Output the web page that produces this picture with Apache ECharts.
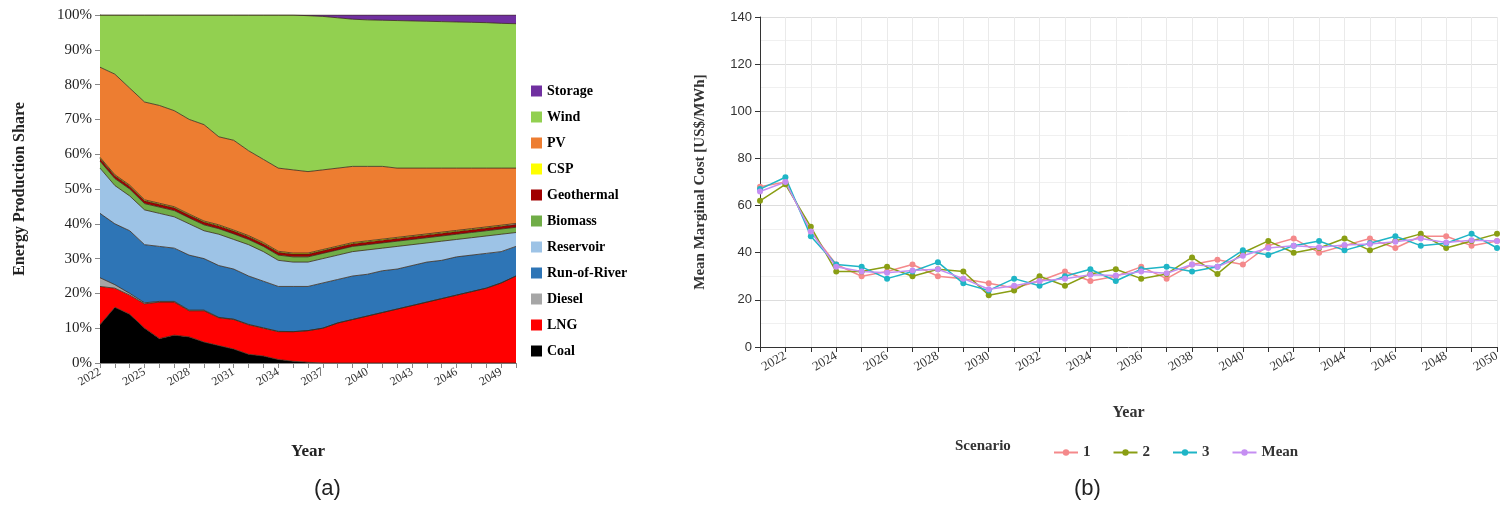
<!DOCTYPE html>
<html lang="en">
<head>
    <meta charset="UTF-8">
    <script src="https://cdn.jsdelivr.net/npm/echarts@6/dist/echarts.min.js"></script>
    <title>Energy mix and marginal cost</title>
    <style>
        html, body { margin: 0; padding: 0; background: #fff; }
        #myChart { width: 1512px; height: 509px; }
    </style>
</head>
<body>
    <div id="myChart"></div>
    <script>
        // (a) energy production share, 2022-2050
        var years = [];
        for (let y = 2022; y <= 2050; y++) years.push(String(y));

        var coal = [11, 16, 14, 10, 7, 8, 7.5, 6, 5, 4, 2.5, 2, 1, 0.5, 0.2, 0, 0, 0, 0, 0, 0, 0, 0, 0, 0, 0, 0, 0, 0];
        var lng = [11, 5.5, 5.5, 7, 10.5, 9.5, 7.5, 9, 8, 8.5, 8.5, 8, 8, 8.5, 9.1, 10, 11.5, 12.5, 13.5, 14.5, 15.5, 16.5, 17.5, 18.5, 19.5, 20.5, 21.5, 23, 25];
        var diesel = [2.5, 1, 0.5, 0.3, 0.2, 0.2, 0.2, 0.2, 0.1, 0.1, 0.1, 0.1, 0.1, 0, 0, 0, 0, 0, 0, 0, 0, 0, 0, 0, 0, 0, 0, 0, 0];
        var runOfRiver = [18.5, 17.5, 18, 16.7, 15.8, 15.3, 15.8, 14.8, 14.9, 14.4, 13.9, 13.4, 12.9, 13, 12.7, 13, 12.5, 12.5, 12, 12, 11.5, 11.5, 11.5, 11, 11, 10.5, 10, 9, 8.5];
        var reservoir = [13, 11, 10, 10, 9.5, 9, 9, 8, 9, 8.5, 9, 8.5, 7.5, 7, 7, 7, 7, 7, 7, 6.5, 6.5, 6, 5.5, 5.5, 5, 5, 5, 5, 4];
        var biomass = [2, 2, 2, 1.8, 1.8, 1.8, 1.7, 1.7, 1.6, 1.6, 1.5, 1.5, 1.5, 1.5, 1.5, 1.5, 1.5, 1.5, 1.5, 1.5, 1.5, 1.5, 1.5, 1.5, 1.5, 1.5, 1.5, 1.5, 1.5];
        var geothermal = [0.8, 0.8, 0.8, 0.8, 0.8, 0.8, 0.8, 0.8, 0.8, 0.8, 0.8, 0.8, 0.8, 0.8, 0.8, 0.8, 0.8, 0.8, 0.8, 0.8, 0.8, 0.8, 0.8, 0.8, 0.8, 0.8, 0.8, 0.8, 0.8];
        var csp = [0.3, 0.3, 0.3, 0.3, 0.3, 0.3, 0.3, 0.3, 0.3, 0.3, 0.3, 0.3, 0.3, 0.3, 0.3, 0.3, 0.3, 0.3, 0.3, 0.3, 0.3, 0.3, 0.3, 0.3, 0.3, 0.3, 0.3, 0.3, 0.3];
        var pv = [25.9, 28.9, 27.9, 28.1, 28.1, 27.6, 27.2, 27.7, 25.3, 25.8, 24.4, 23.9, 23.9, 23.9, 23.4, 22.9, 22.4, 21.9, 21.4, 20.9, 19.9, 19.4, 18.9, 18.4, 17.9, 17.4, 16.9, 16.4, 15.9];
        var wind = [15, 17, 21, 25, 26, 27.5, 30, 31.5, 35, 36, 39, 41.5, 44, 44.5, 44.8, 44.1, 43.2, 42.3, 42.1, 42, 42.4, 42.3, 42.2, 42.1, 42, 41.9, 41.8, 41.6, 41.5];
        var storage = [0, 0, 0, 0, 0, 0, 0, 0, 0, 0, 0, 0, 0, 0, 0.2, 0.4, 0.8, 1.2, 1.4, 1.5, 1.6, 1.7, 1.8, 1.9, 2, 2.1, 2.2, 2.4, 2.5];

        var techs = [
            ['Coal', coal, '#000000'],
            ['LNG', lng, '#ff0000'],
            ['Diesel', diesel, '#a6a6a6'],
            ['Run-of-River', runOfRiver, '#2e75b6'],
            ['Reservoir', reservoir, '#9dc3e6'],
            ['Biomass', biomass, '#70ad47'],
            ['Geothermal', geothermal, '#a00000'],
            ['CSP', csp, '#ffff00'],
            ['PV', pv, '#ed7d31'],
            ['Wind', wind, '#92d050'],
            ['Storage', storage, '#7030a0']
        ];

        // (b) mean marginal cost, 2021-2050
        var costYears = [];
        for (let y = 2021; y <= 2050; y++) costYears.push(String(y));
        var scen1 = [68, 70, 49, 35, 30, 32, 35, 30, 29, 27, 25, 28, 32, 28, 30, 34, 29, 35, 37, 35, 43, 46, 40, 43, 46, 42, 47, 47, 43, 45];
        var scen2 = [62, 69, 51, 32, 32, 34, 30, 33, 32, 22, 24, 30, 26, 31, 33, 29, 31, 38, 31, 40, 45, 40, 42, 46, 41, 45, 48, 42, 45, 48];
        var scen3 = [67, 72, 47, 35, 34, 29, 32, 36, 27, 24, 29, 26, 30, 33, 28, 33, 34, 32, 34, 41, 39, 43, 45, 41, 44, 47, 43, 44, 48, 42];
        var scenMean = [66, 70, 49, 34, 32, 31.5, 32.5, 33, 29, 24.5, 26, 28, 29, 30.7, 30.3, 32, 31.3, 35, 34, 38.7, 42, 43, 42.3, 43.3, 43.7, 44.7, 46, 44.3, 45.3, 45];
        var scenarios = [
            ['1', scen1, '#f4898b'],
            ['2', scen2, '#8a9e14'],
            ['3', scen3, '#1fb5c6'],
            ['Mean', scenMean, '#c58ef2']
        ];

        var serif = '"Liberation Serif", "DejaVu Serif", serif';
        var series = [];
        techs.forEach(t => {
            series.push({
                name: t[0], type: 'line', stack: 'share', xAxisIndex: 0, yAxisIndex: 0,
                data: t[1], symbol: 'none', smooth: false,
                lineStyle: { color: '#3a2a1a', width: 0.8 },
                itemStyle: { color: t[2] },
                areaStyle: { color: t[2], opacity: 1 }
            });
        });
        scenarios.forEach(s => {
            series.push({
                name: s[0], type: 'line', xAxisIndex: 1, yAxisIndex: 1,
                data: s[1], symbol: 'circle', symbolSize: 6,
                lineStyle: { color: s[2], width: 1.5 },
                itemStyle: { color: s[2] }
            });
        });

        var dom = document.getElementById('myChart');
        var myChart = echarts.init(dom);
        var option = {
            animation: false,
            grid: [
                { left: 100, top: 15, width: 416, height: 348 },
                { left: 760, top: 17, width: 737, height: 330 }
            ],
            legend: [{
                orient: 'vertical', left: 526, top: 79, itemGap: 12,
                itemWidth: 11, itemHeight: 11, icon: 'rect',
                data: techs.map(t => t[0]).reverse(),
                textStyle: { fontFamily: serif, fontWeight: 'bold', fontSize: 14, color: '#000' }
            }, {
                orient: 'horizontal', left: 1048, top: 440, itemGap: 22,
                itemWidth: 24, itemHeight: 8,
                data: scenarios.map(s => s[0]),
                textStyle: { fontFamily: serif, fontWeight: 'bold', fontSize: 15, color: '#333' }
            }],
            graphic: [
                { type: 'text', left: 955, top: 439, style: { text: 'Scenario', font: 'bold 15px ' + serif, fill: '#333' } },
                { type: 'text', left: 314, top: 478, style: { text: '(a)', font: '22px "Liberation Sans", Arial, sans-serif', fill: '#222' } },
                { type: 'text', left: 1074, top: 478, style: { text: '(b)', font: '22px "Liberation Sans", Arial, sans-serif', fill: '#222' } }
            ],
            xAxis: [{
                gridIndex: 0, type: 'category', data: years, boundaryGap: false,
                name: 'Year', nameLocation: 'middle', nameGap: 80,
                nameTextStyle: { fontFamily: serif, fontWeight: 'bold', fontSize: 17, color: '#222' },
                axisLine: { lineStyle: { color: '#888' } },
                axisTick: { interval: 0, lineStyle: { color: '#888' } },
                axisLabel: { interval: 2, rotate: 30, fontFamily: serif, fontSize: 12, color: '#333' }
            }, {
                gridIndex: 1, type: 'category', data: costYears, boundaryGap: false,
                name: 'Year', nameLocation: 'middle', nameGap: 58,
                nameTextStyle: { fontFamily: serif, fontWeight: 'bold', fontSize: 16, color: '#333' },
                axisLine: { lineStyle: { color: '#333' } },
                axisTick: { interval: 0, lineStyle: { color: '#333' } },
                axisLabel: {
                    interval: (i, v) => Number(v) % 2 === 0, rotate: 30,
                    fontFamily: serif, fontSize: 13, color: '#333'
                },
                splitLine: { show: true, interval: 0, lineStyle: { color: '#eaeaea' } }
            }],
            yAxis: [{
                gridIndex: 0, type: 'value', min: 0, max: 100, interval: 10,
                name: 'Energy Production Share', nameLocation: 'middle', nameGap: 72,
                nameTextStyle: { fontFamily: serif, fontWeight: 'bold', fontSize: 16, color: '#222' },
                axisLine: { show: true, lineStyle: { color: '#888' } },
                axisTick: { show: true },
                axisLabel: { formatter: '{value}%', fontFamily: serif, fontSize: 15, color: '#222' },
                splitLine: { show: false }
            }, {
                gridIndex: 1, type: 'value', min: 0, max: 140, interval: 20,
                name: 'Mean Marginal Cost [US$/MWh]', nameLocation: 'middle', nameGap: 52,
                nameTextStyle: { fontFamily: serif, fontWeight: 'bold', fontSize: 15, color: '#333' },
                axisLine: { show: true, lineStyle: { color: '#333' } },
                axisTick: { show: true },
                axisLabel: { fontFamily: '"Liberation Sans", Arial, sans-serif', fontSize: 13, color: '#333' },
                splitLine: { show: true, lineStyle: { color: '#dddddd' } },
                minorTick: { show: false, splitNumber: 2 },
                minorSplitLine: { show: true, lineStyle: { color: '#f0f0f0' } }
            }],
            series: series
        };
        myChart.setOption(option);
    </script>
</body>
</html>
